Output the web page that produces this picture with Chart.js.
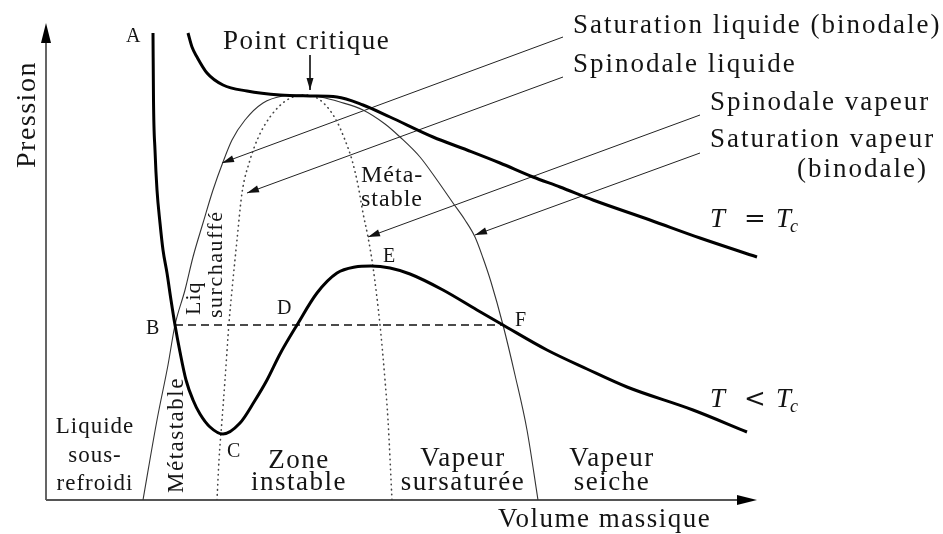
<!DOCTYPE html>
<html lang="fr">
<head>
<meta charset="utf-8">
<title>Diagramme de Clapeyron</title>
<script src="https://cdn.jsdelivr.net/npm/chart.js@4.4.1/dist/chart.umd.min.js"></script>
<style>
  html, body { margin: 0; padding: 0; background: #fff; }
  .diagram { position: relative; width: 943px; height: 534px; }
</style>
</head>
<body>
<div class="diagram"><canvas id="id-diagram-canvas"></canvas></div>
<script>
// unités arbitraires : volume massique 0..72, pression 0..48

// isotherme T < Tc (A -> B -> C -> D -> E -> F)
const isoLowVolume = [10.7, 10.75, 10.9, 11.1, 11.4, 11.7, 12.1, 12.5, 12.9, 13.4, 14.0, 14.7, 15.4, 16.4, 17.7, 19.4, 20.8, 22.1, 23.4, 25.1, 27.1, 29.1, 30.9, 32.5, 34.4, 36.4, 39.7, 43.1, 45.7, 50.1, 54.1, 58.1, 64.7, 70.1];
const isoLowPressure = [46.7, 40.0, 35.0, 31.0, 27.7, 25.0, 22.7, 20.0, 17.5, 14.8, 12.0, 10.0, 8.6, 7.3, 6.6, 7.7, 9.8, 12.0, 14.6, 17.5, 20.7, 22.7, 23.3, 23.4, 23.2, 22.6, 21.0, 19.0, 17.5, 15.0, 13.1, 11.3, 9.0, 6.8];

// isotherme critique T = Tc
const isoCritVolume = [14.2, 14.6, 15.1, 16.1, 17.7, 20.1, 23.4, 26.4, 29.1, 31.7, 34.4, 38.7, 42.1, 45.4, 48.7, 51.4, 54.7, 60.4, 65.4, 71.1];
const isoCritPressure = [46.7, 45.3, 44.3, 42.7, 41.5, 40.9, 40.5, 40.4, 40.3, 39.5, 38.3, 36.3, 35.0, 33.7, 32.3, 31.3, 30.0, 28.0, 26.2, 24.3];

// courbe de saturation (binodale)
const binodaleVolume = [9.7, 11.1, 12.2, 12.9, 13.9, 14.7, 15.7, 16.7, 17.7, 18.6, 19.9, 21.7, 23.7, 25.4, 27.4, 29.4, 31.7, 33.9, 35.4, 37.4, 39.1, 40.7, 41.9, 42.9, 43.7, 44.5, 45.7, 46.9, 48.1, 49.2];
const binodalePressure = [0.0, 8.0, 13.5, 17.5, 21.0, 24.3, 27.7, 31.0, 33.8, 36.0, 38.0, 39.7, 40.4, 40.5, 40.3, 39.8, 39.0, 37.6, 36.3, 34.3, 32.0, 29.7, 28.0, 26.3, 24.2, 21.8, 17.5, 12.5, 7.0, 0.0];

// spinodale
const spinodaleVolume = [17.1, 17.3, 17.6, 17.9, 18.3, 18.6, 19.1, 19.6, 20.4, 21.2, 22.4, 24.1, 25.9, 27.4, 28.9, 29.9, 30.6, 31.2, 31.7, 32.2, 32.7, 33.4, 33.9, 34.2, 34.6];
const spinodalePressure = [0.0, 4.0, 8.0, 12.0, 17.7, 21.0, 26.0, 30.7, 34.0, 36.2, 38.3, 40.0, 40.5, 40.0, 38.2, 36.0, 34.0, 31.5, 28.7, 26.3, 23.3, 17.5, 12.0, 8.0, 0.0];

// palier de changement d'état B -> F
const palierVolume = [12.9, 45.7];
const palierPressure = [17.5, 17.5];

// flèches de légende : départ -> pointe
const leaderStartVolume = [51.7, 51.7, 65.4, 65.4, 26.4];
const leaderStartPressure = [46.3, 42.3, 38.5, 34.7, 44.5];
const leaderEndVolume = [17.6, 20.1, 32.2, 42.9, 26.4];
const leaderEndPressure = [33.7, 30.7, 26.3, 26.5, 41.0];

const axisTitles = ['Volume massique', 'Pression'];
const curveNames = ['Saturation liquide (binodale)', 'Spinodale liquide', 'Spinodale vapeur', 'Saturation vapeur', '(binodale)', 'Point critique'];
const pointNames = ['A', 'B', 'C', 'D', 'E', 'F'];
const zoneNames = ['Liquide', 'sous-', 'refroidi', 'Zone', 'instable', 'Vapeur', 'sursaturée', 'Vapeur', 'seiche', 'Méta-', 'stable', 'Liq', 'surchauffé', 'Métastable'];

function toPoints(xs, ys) {
  return xs.map((x, i) => ({ x: x, y: ys[i] }));
}

const FONT = '"Liberation Serif", serif';
const INK = '#141414';

// ---

const chartData = {
  datasets: [
    {
      data: toPoints(isoLowVolume, isoLowPressure),
      borderColor: '#000',
      borderWidth: 3,
      cubicInterpolationMode: 'monotone',
    },
    {
      data: toPoints(isoCritVolume, isoCritPressure),
      borderColor: '#000',
      borderWidth: 3,
      cubicInterpolationMode: 'monotone',
    },
    {
      data: toPoints(binodaleVolume, binodalePressure),
      borderColor: '#333',
      borderWidth: 1.1,
      cubicInterpolationMode: 'monotone',
    },
    {
      data: toPoints(spinodaleVolume, spinodalePressure),
      borderColor: '#444',
      borderWidth: 1.6,
      borderDash: [0.5, 4.5],
      borderCapStyle: 'round',
      cubicInterpolationMode: 'monotone',
    },
    {
      data: toPoints(palierVolume, palierPressure),
      borderColor: '#111',
      borderWidth: 1.3,
      borderDash: [8, 5],
    },
  ],
};

for (let i = 0; i < leaderStartVolume.length; i++) {
  chartData.datasets.push({
    data: [
      { x: leaderStartVolume[i], y: leaderStartPressure[i] },
      { x: leaderEndVolume[i], y: leaderEndPressure[i] },
    ],
    borderColor: '#222',
    borderWidth: 1,
  });
}

// ---

function arrowHead(ctx, fromX, fromY, toX, toY, len, half) {
  const a = Math.atan2(toY - fromY, toX - fromX);
  ctx.beginPath();
  ctx.moveTo(toX, toY);
  ctx.lineTo(toX - len * Math.cos(a) + half * Math.sin(a), toY - len * Math.sin(a) - half * Math.cos(a));
  ctx.lineTo(toX - len * Math.cos(a) - half * Math.sin(a), toY - len * Math.sin(a) + half * Math.cos(a));
  ctx.closePath();
  ctx.fill();
}

function text(ctx, str, x, y, size, opts = {}) {
  ctx.save();
  ctx.translate(x, y);
  if (opts.rotate) ctx.rotate(-Math.PI / 2);
  if ('letterSpacing' in ctx) ctx.letterSpacing = (opts.spacing || 0) + 'px';
  ctx.font = (opts.italic ? 'italic ' : '') + size + 'px ' + (opts.family || FONT);
  ctx.textAlign = opts.align || 'left';
  ctx.textBaseline = 'alphabetic';
  ctx.fillStyle = INK;
  ctx.fillText(str, 0, 0);
  ctx.restore();
}

function mathLabel(ctx, x, y, sign) {
  text(ctx, 'T', x, y, 27, { italic: true });
  text(ctx, sign, x + 45, y, 26, { align: 'center', family: '"DejaVu Serif", serif' });
  text(ctx, 'T', x + 66, y, 27, { italic: true });
  text(ctx, 'c', x + 80, y + 5, 18, { italic: true });
}

const axesPlugin = {
  id: 'axesArrows',
  beforeDatasetsDraw(chart) {
    const { ctx, scales } = chart;
    const x0 = scales.x.getPixelForValue(0);
    const y0 = scales.y.getPixelForValue(0);
    const xEnd = scales.x.getPixelForValue(71.1);
    const yEnd = scales.y.getPixelForValue(47.7);
    ctx.save();
    ctx.strokeStyle = '#555';
    ctx.lineWidth = 1.8;
    ctx.beginPath();
    ctx.moveTo(x0, y0);
    ctx.lineTo(xEnd - 10, y0);
    ctx.moveTo(x0, y0);
    ctx.lineTo(x0, yEnd + 10);
    ctx.stroke();
    ctx.fillStyle = '#000';
    arrowHead(ctx, x0, y0, xEnd, y0, 20, 5);
    arrowHead(ctx, x0, y0, x0, yEnd, 20, 5);
    ctx.restore();
  },
};

const leaderPlugin = {
  id: 'leaderArrows',
  afterDatasetsDraw(chart) {
    const { ctx, scales } = chart;
    ctx.save();
    ctx.fillStyle = '#111';
    for (let i = 0; i < leaderStartVolume.length; i++) {
      arrowHead(
        ctx,
        scales.x.getPixelForValue(leaderStartVolume[i]),
        scales.y.getPixelForValue(leaderStartPressure[i]),
        scales.x.getPixelForValue(leaderEndVolume[i]),
        scales.y.getPixelForValue(leaderEndPressure[i]),
        12,
        3.5
      );
    }
    ctx.restore();
  },
};

const labelPlugin = {
  id: 'diagramLabels',
  afterDraw(chart) {
    const { ctx, scales } = chart;
    const px = (v) => scales.x.getPixelForValue(v);
    const py = (p) => scales.y.getPixelForValue(p);

    // titres des axes
    text(ctx, axisTitles[0], px(45.2), py(-2.7), 27, { spacing: 1.5 });
    text(ctx, axisTitles[1], px(-1.1), py(33.2), 28, { rotate: true, spacing: 1.5 });

    // légendes des courbes
    text(ctx, curveNames[0], px(52.7), py(46.7), 27, { spacing: 2 });
    text(ctx, curveNames[1], px(52.7), py(42.8), 27, { spacing: 2 });
    text(ctx, curveNames[2], px(66.4), py(39.0), 27, { spacing: 2 });
    text(ctx, curveNames[3], px(66.4), py(35.3), 27, { spacing: 2 });
    text(ctx, curveNames[4], px(75.1), py(32.3), 27, { spacing: 2 });
    text(ctx, curveNames[5], px(17.7), py(45.1), 27, { spacing: 1.5 });

    // points remarquables
    const pointPos = [[8.0, 45.8], [10.0, 16.6], [18.1, 4.3], [23.1, 18.6], [33.7, 23.8], [46.9, 17.4]];
    pointNames.forEach((name, i) => {
      text(ctx, name, px(pointPos[i][0]), py(pointPos[i][1]), 20);
    });

    // zones
    text(ctx, zoneNames[0], px(4.9), py(6.7), 23, { align: 'center', spacing: 1 });
    text(ctx, zoneNames[1], px(4.9), py(3.8), 23, { align: 'center', spacing: 1 });
    text(ctx, zoneNames[2], px(4.9), py(1.0), 23, { align: 'center', spacing: 1 });
    text(ctx, zoneNames[3], px(25.3), py(3.2), 27, { align: 'center', spacing: 1.5 });
    text(ctx, zoneNames[4], px(25.3), py(1.0), 27, { align: 'center', spacing: 1.5 });
    text(ctx, zoneNames[5], px(41.7), py(3.4), 27, { align: 'center', spacing: 1.5 });
    text(ctx, zoneNames[6], px(41.7), py(1.0), 27, { align: 'center', spacing: 1.5 });
    text(ctx, zoneNames[7], px(56.6), py(3.4), 27, { align: 'center', spacing: 1.5 });
    text(ctx, zoneNames[8], px(56.6), py(1.0), 27, { align: 'center', spacing: 1.5 });
    text(ctx, zoneNames[9], px(31.5), py(31.8), 24, { spacing: 1 });
    text(ctx, zoneNames[10], px(31.5), py(29.4), 24, { spacing: 1 });
    text(ctx, zoneNames[11], px(15.4), py(18.5), 22, { rotate: true, spacing: 1 });
    text(ctx, zoneNames[12], px(17.6), py(18.2), 22, { rotate: true, spacing: 1.5 });
    text(ctx, zoneNames[13], px(13.7), py(0.7), 23, { rotate: true, spacing: 1.5 });

    // isothermes
    mathLabel(ctx, px(66.4), py(27.3), '=');
    mathLabel(ctx, px(66.4), py(9.3), '<');
  },
};

const chartOptions = {
  responsive: true,
  maintainAspectRatio: false,
  animation: false,
  events: [],
  showLine: true,
  elements: {
    point: { radius: 0 },
    line: { tension: 0 },
  },
  scales: {
    x: { type: 'linear', min: 0, max: 72, display: false },
    y: { type: 'linear', min: 0, max: 48, display: false },
  },
  plugins: {
    legend: { display: false },
    tooltip: { enabled: false },
  },
  layout: {
    padding: { left: 46, right: 177, top: 20, bottom: 34 },
  },
};

new Chart(document.getElementById('id-diagram-canvas'), {
  type: 'scatter',
  data: chartData,
  options: chartOptions,
  plugins: [axesPlugin, leaderPlugin, labelPlugin],
});
</script>
</body>
</html>
